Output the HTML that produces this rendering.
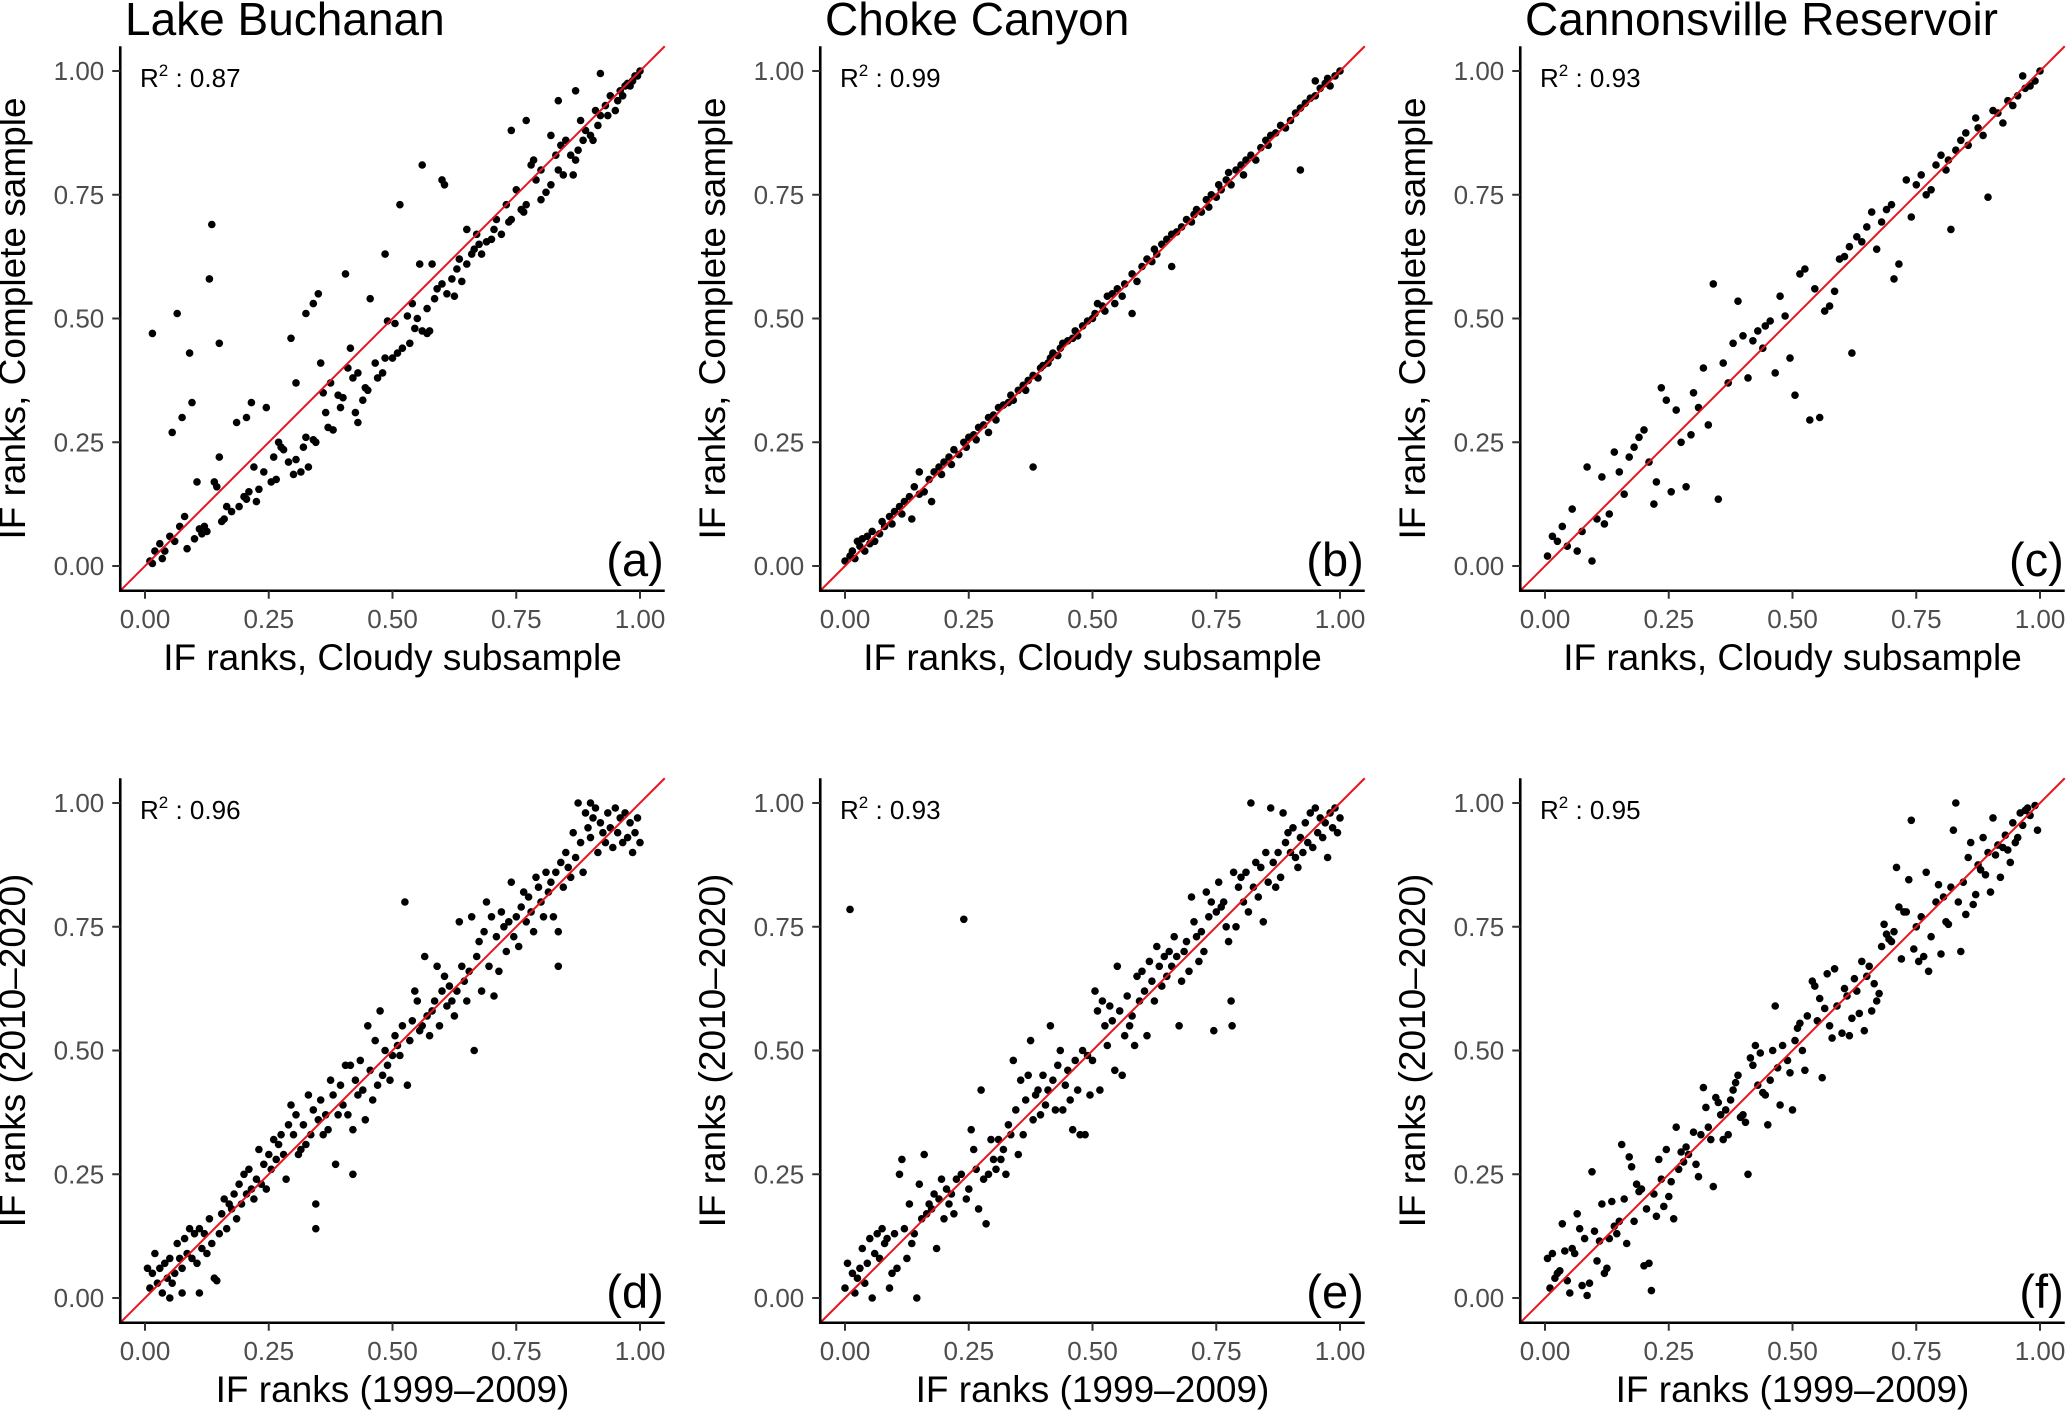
<!DOCTYPE html>
<html><head><meta charset="utf-8">
<style>
html,body{margin:0;padding:0;background:#fff;}
svg{display:block;font-family:"Liberation Sans",Arial,sans-serif;}
</style></head>
<body>
<svg id="fig" width="2067" height="1411" viewBox="0 0 2067 1411" xmlns="http://www.w3.org/2000/svg"></svg>
<script>
const tickValues = [0, 0.25, 0.5, 0.75, 1];
const tickLabels = ["0.00", "0.25", "0.50", "0.75", "1.00"];
const panelTitles = ["Lake Buchanan", "Choke Canyon", "Cannonsville Reservoir"];
const panelLetters = ["(a)", "(b)", "(c)", "(d)", "(e)", "(f)"];
const r2Values = ["0.87", "0.99", "0.93", "0.96", "0.93", "0.95"];
const xTitles = ["IF ranks, Cloudy subsample", "IF ranks (1999\u20132009)"];
const yTitles = ["IF ranks, Complete sample", "IF ranks (2010\u20132020)"];

const ptsA = [[0.015,0.47],[0.065,0.51],[0.055,0.27],[0.09,0.43],[0.095,0.33],[0.075,0.30],[0.13,0.58],[0.135,0.69],[0.15,0.45],[0.15,0.22],[0.14,0.17],[0.145,0.16],[0.105,0.17],[0.185,0.29],[0.205,0.30],[0.215,0.33],[0.245,0.32],[0.295,0.46],[0.305,0.37],[0.325,0.51],[0.34,0.53],[0.35,0.55],[0.355,0.41],[0.405,0.59],[0.415,0.44],[0.455,0.54],[0.485,0.63],[0.515,0.73],[0.555,0.61],[0.56,0.81],[0.58,0.61],[0.6,0.78],[0.605,0.77],[0.65,0.68],[0.74,0.88],[0.77,0.90],[0.835,0.94],[0.87,0.96],[0.92,0.995],
[0.01,0.01],[0.015,0.005],[0.02,0.03],[0.03,0.045],[0.035,0.015],[0.04,0.03],[0.05,0.06],[0.06,0.05],[0.07,0.08],[0.08,0.10],[0.085,0.035],[0.1,0.055],[0.11,0.075],[0.115,0.065],[0.12,0.08],[0.125,0.07],[0.155,0.09],[0.16,0.095],[0.165,0.12],[0.175,0.11],[0.19,0.12],[0.2,0.14],[0.205,0.135],[0.21,0.15],[0.22,0.2],[0.225,0.13],[0.23,0.155],[0.24,0.19],[0.255,0.17],[0.26,0.22],[0.265,0.175],[0.27,0.25],[0.275,0.24],[0.28,0.235],[0.29,0.21],[0.3,0.185],[0.305,0.215],[0.315,0.19],[0.32,0.24],[0.33,0.2],[0.325,0.26],[0.34,0.255],[0.345,0.25],[0.36,0.35],[0.365,0.31],[0.37,0.28],[0.375,0.37],[0.38,0.275],[0.39,0.345],[0.395,0.32],[0.4,0.34],[0.41,0.40],[0.42,0.38],[0.425,0.31],[0.43,0.29],[0.43,0.39],[0.44,0.335],[0.445,0.36],[0.45,0.355],[0.465,0.41],[0.47,0.38],[0.48,0.39],[0.485,0.42],[0.49,0.495],[0.5,0.42],[0.505,0.49],[0.51,0.43],[0.52,0.44],[0.53,0.505],[0.535,0.45],[0.54,0.53],[0.545,0.48],[0.55,0.5],[0.56,0.475],[0.57,0.47],[0.575,0.475],[0.57,0.52],[0.585,0.54],[0.59,0.56],[0.6,0.57],[0.61,0.55],[0.62,0.58],[0.625,0.545],[0.63,0.6],[0.635,0.62],[0.64,0.575],[0.65,0.61],[0.66,0.63],[0.665,0.64],[0.67,0.67],[0.675,0.65],[0.68,0.63],[0.69,0.655],[0.7,0.66],[0.705,0.68],[0.71,0.7],[0.72,0.67],[0.73,0.73],[0.735,0.695],[0.74,0.7],[0.75,0.76],[0.76,0.72],[0.765,0.715],[0.77,0.73],[0.78,0.81],[0.785,0.82],[0.79,0.78],[0.8,0.80],[0.8,0.74],[0.81,0.755],[0.82,0.77],[0.82,0.87],[0.83,0.83],[0.835,0.8],[0.84,0.85],[0.845,0.79],[0.85,0.86],[0.86,0.83],[0.865,0.79],[0.87,0.82],[0.875,0.84],[0.88,0.9],[0.885,0.86],[0.89,0.88],[0.9,0.87],[0.905,0.86],[0.91,0.92],[0.915,0.89],[0.92,0.91],[0.93,0.93],[0.935,0.91],[0.94,0.95],[0.95,0.92],[0.955,0.94],[0.96,0.96],[0.965,0.95],[0.97,0.97],[0.975,0.975],[0.98,0.97],[0.985,0.98],[0.99,0.99],[1.0,1.0],[0.995,0.99]];

const ptsB = [[0.0,0.01],[0.01,0.02],[0.015,0.03],[0.02,0.015],[0.025,0.05],[0.03,0.04],[0.035,0.055],[0.04,0.03],[0.045,0.06],[0.05,0.045],[0.055,0.07],[0.06,0.05],[0.07,0.065],[0.075,0.09],[0.08,0.08],[0.09,0.1],[0.095,0.085],[0.1,0.11],[0.11,0.12],[0.115,0.105],[0.12,0.13],[0.13,0.14],[0.135,0.095],[0.14,0.16],[0.15,0.145],[0.15,0.19],[0.16,0.15],[0.175,0.13],[0.17,0.175],[0.18,0.19],[0.19,0.2],[0.195,0.185],[0.2,0.21],[0.21,0.22],[0.215,0.205],[0.22,0.235],[0.23,0.225],[0.24,0.25],[0.245,0.24],[0.25,0.26],[0.26,0.265],[0.265,0.255],[0.27,0.28],[0.28,0.285],[0.29,0.27],[0.29,0.3],[0.3,0.305],[0.305,0.295],[0.31,0.32],[0.32,0.325],[0.33,0.33],[0.335,0.345],[0.34,0.335],[0.35,0.355],[0.36,0.365],[0.365,0.355],[0.37,0.375],[0.38,0.2],[0.38,0.385],[0.39,0.38],[0.395,0.4],[0.4,0.405],[0.41,0.41],[0.415,0.42],[0.42,0.43],[0.43,0.425],[0.435,0.44],[0.44,0.45],[0.45,0.455],[0.46,0.46],[0.465,0.475],[0.47,0.465],[0.48,0.485],[0.49,0.495],[0.5,0.5],[0.505,0.51],[0.51,0.53],[0.52,0.525],[0.525,0.515],[0.53,0.545],[0.54,0.55],[0.545,0.53],[0.55,0.56],[0.56,0.545],[0.565,0.57],[0.58,0.51],[0.58,0.59],[0.59,0.575],[0.6,0.605],[0.61,0.62],[0.62,0.615],[0.625,0.64],[0.63,0.63],[0.64,0.65],[0.65,0.66],[0.66,0.605],[0.66,0.67],[0.67,0.675],[0.68,0.685],[0.69,0.7],[0.7,0.695],[0.705,0.71],[0.71,0.72],[0.72,0.715],[0.73,0.74],[0.735,0.725],[0.74,0.75],[0.75,0.745],[0.755,0.77],[0.76,0.76],[0.77,0.78],[0.775,0.795],[0.78,0.77],[0.79,0.8],[0.8,0.81],[0.805,0.79],[0.81,0.82],[0.82,0.83],[0.83,0.82],[0.84,0.845],[0.85,0.86],[0.855,0.85],[0.86,0.87],[0.87,0.875],[0.88,0.89],[0.89,0.885],[0.9,0.9],[0.91,0.915],[0.92,0.8],[0.92,0.925],[0.93,0.935],[0.94,0.945],[0.95,0.95],[0.95,0.98],[0.96,0.965],[0.97,0.975],[0.975,0.985],[0.98,0.97],[0.99,0.99],[1.0,1.0]];

const ptsC = [[0.005,0.02],[0.015,0.06],[0.025,0.05],[0.035,0.08],[0.045,0.04],[0.055,0.115],[0.065,0.03],[0.075,0.07],[0.085,0.2],[0.095,0.01],[0.105,0.095],[0.115,0.18],[0.12,0.085],[0.13,0.105],[0.14,0.23],[0.15,0.19],[0.16,0.145],[0.17,0.22],[0.18,0.24],[0.19,0.26],[0.2,0.275],[0.21,0.21],[0.22,0.125],[0.225,0.17],[0.235,0.36],[0.245,0.335],[0.255,0.15],[0.265,0.315],[0.275,0.25],[0.285,0.16],[0.295,0.265],[0.3,0.35],[0.31,0.32],[0.32,0.40],[0.33,0.285],[0.34,0.57],[0.35,0.135],[0.36,0.41],[0.37,0.37],[0.38,0.45],[0.39,0.535],[0.4,0.465],[0.41,0.38],[0.42,0.455],[0.43,0.475],[0.44,0.44],[0.445,0.485],[0.455,0.495],[0.465,0.39],[0.475,0.545],[0.485,0.505],[0.495,0.42],[0.505,0.345],[0.515,0.59],[0.525,0.60],[0.535,0.295],[0.545,0.56],[0.555,0.30],[0.565,0.515],[0.575,0.525],[0.585,0.555],[0.595,0.62],[0.605,0.625],[0.615,0.645],[0.62,0.43],[0.63,0.665],[0.64,0.655],[0.65,0.685],[0.66,0.715],[0.67,0.64],[0.68,0.695],[0.69,0.72],[0.7,0.73],[0.705,0.58],[0.715,0.61],[0.73,0.78],[0.74,0.705],[0.75,0.77],[0.76,0.79],[0.77,0.75],[0.78,0.76],[0.79,0.81],[0.8,0.83],[0.81,0.8],[0.815,0.82],[0.82,0.68],[0.83,0.84],[0.84,0.86],[0.85,0.875],[0.855,0.85],[0.87,0.905],[0.875,0.885],[0.885,0.87],[0.895,0.745],[0.905,0.92],[0.915,0.915],[0.925,0.895],[0.935,0.94],[0.945,0.93],[0.955,0.95],[0.965,0.99],[0.97,0.965],[0.98,0.97],[0.99,0.98],[1.0,1.0]];

const ptsD = [[0.005,0.06],[0.01,0.02],[0.015,0.05],[0.02,0.09],[0.025,0.03],[0.03,0.06],[0.035,0.01],[0.04,0.07],[0.045,0.04],[0.05,0.0],[0.05,0.08],[0.055,0.03],[0.06,0.05],[0.065,0.11],[0.07,0.08],[0.075,0.01],[0.075,0.06],[0.08,0.12],[0.085,0.09],[0.09,0.14],[0.095,0.08],[0.1,0.13],[0.105,0.07],[0.11,0.01],[0.11,0.14],[0.115,0.1],[0.12,0.13],[0.125,0.09],[0.13,0.16],[0.135,0.11],[0.14,0.04],[0.145,0.035],[0.15,0.13],[0.155,0.17],[0.16,0.2],[0.165,0.14],[0.17,0.19],[0.175,0.18],[0.18,0.21],[0.185,0.16],[0.19,0.23],[0.195,0.19],[0.2,0.25],[0.205,0.21],[0.21,0.26],[0.215,0.22],[0.22,0.2],[0.225,0.24],[0.23,0.3],[0.235,0.23],[0.24,0.27],[0.245,0.22],[0.25,0.29],[0.255,0.26],[0.26,0.32],[0.265,0.28],[0.27,0.31],[0.275,0.33],[0.28,0.29],[0.285,0.24],[0.29,0.35],[0.295,0.39],[0.3,0.33],[0.305,0.37],[0.31,0.29],[0.315,0.3],[0.32,0.35],[0.325,0.31],[0.33,0.41],[0.335,0.33],[0.34,0.38],[0.345,0.14],[0.345,0.19],[0.35,0.36],[0.355,0.4],[0.36,0.33],[0.365,0.37],[0.37,0.34],[0.375,0.44],[0.38,0.41],[0.385,0.27],[0.39,0.37],[0.395,0.43],[0.4,0.39],[0.405,0.47],[0.41,0.37],[0.415,0.47],[0.42,0.34],[0.42,0.25],[0.425,0.44],[0.43,0.41],[0.435,0.48],[0.44,0.42],[0.445,0.36],[0.45,0.55],[0.455,0.46],[0.46,0.4],[0.465,0.52],[0.47,0.43],[0.475,0.58],[0.48,0.45],[0.485,0.5],[0.49,0.47],[0.495,0.44],[0.5,0.49],[0.505,0.53],[0.51,0.51],[0.515,0.49],[0.52,0.55],[0.525,0.8],[0.53,0.43],[0.535,0.52],[0.54,0.56],[0.545,0.62],[0.55,0.6],[0.555,0.54],[0.56,0.55],[0.565,0.69],[0.57,0.57],[0.575,0.53],[0.58,0.58],[0.585,0.6],[0.59,0.67],[0.595,0.55],[0.6,0.62],[0.605,0.65],[0.61,0.59],[0.615,0.63],[0.62,0.6],[0.625,0.57],[0.63,0.62],[0.635,0.76],[0.64,0.67],[0.645,0.64],[0.65,0.6],[0.655,0.66],[0.66,0.77],[0.665,0.5],[0.67,0.69],[0.675,0.72],[0.68,0.62],[0.685,0.74],[0.69,0.8],[0.695,0.67],[0.7,0.77],[0.705,0.61],[0.71,0.73],[0.715,0.66],[0.72,0.78],[0.725,0.75],[0.73,0.7],[0.735,0.76],[0.74,0.84],[0.745,0.73],[0.75,0.77],[0.755,0.71],[0.76,0.79],[0.765,0.82],[0.77,0.76],[0.775,0.81],[0.78,0.78],[0.785,0.74],[0.79,0.85],[0.795,0.83],[0.8,0.8],[0.805,0.77],[0.81,0.86],[0.815,0.82],[0.82,0.84],[0.825,0.77],[0.83,0.86],[0.835,0.67],[0.835,0.74],[0.84,0.88],[0.845,0.83],[0.85,0.9],[0.855,0.87],[0.86,0.85],[0.865,0.94],[0.87,0.89],[0.875,1.0],[0.88,0.92],[0.885,0.86],[0.89,0.98],[0.895,0.95],[0.9,1.0],[0.9,0.93],[0.905,0.97],[0.91,0.99],[0.915,0.9],[0.92,0.96],[0.925,0.94],[0.93,0.92],[0.935,0.98],[0.94,0.95],[0.945,0.91],[0.95,0.99],[0.955,0.94],[0.96,0.97],[0.965,0.92],[0.97,0.98],[0.975,0.93],[0.98,0.96],[0.985,0.9],[0.99,0.94],[0.995,0.97],[1.0,0.92]];

const ptsE = [[0.0,0.02],[0.005,0.07],[0.01,0.785],[0.015,0.05],[0.02,0.01],[0.025,0.04],[0.03,0.06],[0.035,0.1],[0.04,0.03],[0.045,0.07],[0.05,0.12],[0.055,0.0],[0.06,0.09],[0.065,0.13],[0.07,0.08],[0.075,0.14],[0.08,0.11],[0.085,0.12],[0.09,0.02],[0.095,0.05],[0.1,0.13],[0.105,0.06],[0.11,0.25],[0.115,0.28],[0.12,0.14],[0.125,0.08],[0.13,0.19],[0.135,0.11],[0.14,0.13],[0.145,0.0],[0.15,0.23],[0.155,0.16],[0.16,0.29],[0.165,0.17],[0.17,0.19],[0.175,0.18],[0.18,0.21],[0.185,0.1],[0.19,0.2],[0.195,0.24],[0.2,0.16],[0.205,0.22],[0.21,0.19],[0.215,0.21],[0.22,0.17],[0.225,0.24],[0.235,0.25],[0.24,0.765],[0.245,0.2],[0.25,0.22],[0.255,0.34],[0.26,0.3],[0.265,0.26],[0.27,0.18],[0.275,0.42],[0.28,0.24],[0.285,0.15],[0.29,0.25],[0.295,0.32],[0.3,0.28],[0.305,0.26],[0.31,0.32],[0.315,0.28],[0.32,0.3],[0.325,0.25],[0.33,0.35],[0.335,0.33],[0.34,0.48],[0.345,0.38],[0.35,0.29],[0.355,0.44],[0.36,0.33],[0.365,0.4],[0.37,0.45],[0.375,0.52],[0.38,0.36],[0.385,0.41],[0.39,0.42],[0.395,0.37],[0.4,0.45],[0.405,0.39],[0.41,0.42],[0.415,0.55],[0.42,0.44],[0.425,0.38],[0.43,0.47],[0.435,0.5],[0.44,0.38],[0.445,0.43],[0.45,0.46],[0.455,0.4],[0.46,0.34],[0.465,0.48],[0.47,0.42],[0.475,0.33],[0.48,0.5],[0.485,0.33],[0.49,0.49],[0.495,0.41],[0.5,0.48],[0.505,0.62],[0.51,0.58],[0.515,0.42],[0.52,0.6],[0.525,0.55],[0.53,0.51],[0.535,0.59],[0.54,0.56],[0.545,0.46],[0.55,0.67],[0.555,0.58],[0.56,0.45],[0.565,0.53],[0.57,0.61],[0.575,0.55],[0.58,0.57],[0.585,0.51],[0.59,0.65],[0.595,0.6],[0.6,0.66],[0.605,0.62],[0.61,0.53],[0.615,0.68],[0.62,0.64],[0.625,0.6],[0.63,0.71],[0.635,0.67],[0.64,0.63],[0.645,0.69],[0.65,0.65],[0.655,0.7],[0.66,0.67],[0.665,0.73],[0.67,0.69],[0.675,0.55],[0.68,0.64],[0.685,0.7],[0.69,0.72],[0.695,0.66],[0.7,0.81],[0.705,0.76],[0.71,0.73],[0.715,0.68],[0.72,0.74],[0.725,0.7],[0.73,0.82],[0.735,0.77],[0.74,0.8],[0.745,0.54],[0.75,0.78],[0.755,0.84],[0.76,0.79],[0.765,0.8],[0.77,0.75],[0.775,0.72],[0.78,0.6],[0.782,0.55],[0.785,0.86],[0.79,0.75],[0.795,0.83],[0.8,0.85],[0.805,0.8],[0.81,0.86],[0.815,0.78],[0.82,1.0],[0.825,0.83],[0.83,0.88],[0.835,0.81],[0.84,0.87],[0.845,0.76],[0.85,0.9],[0.855,0.84],[0.86,0.99],[0.865,0.88],[0.87,0.83],[0.875,0.9],[0.88,0.85],[0.885,0.98],[0.89,0.92],[0.895,0.94],[0.9,0.9],[0.905,0.95],[0.91,0.89],[0.915,0.87],[0.92,0.93],[0.925,0.9],[0.93,0.96],[0.935,0.92],[0.94,0.98],[0.945,0.91],[0.95,0.99],[0.955,0.94],[0.96,0.97],[0.965,0.93],[0.97,0.96],[0.975,0.89],[0.98,0.98],[0.985,0.95],[0.99,0.99],[0.995,0.94],[1.0,0.97]];

const ptsF = [[0.005,0.08],[0.01,0.02],[0.015,0.09],[0.02,0.04],[0.025,0.05],[0.03,0.055],[0.035,0.15],[0.04,0.095],[0.045,0.035],[0.05,0.01],[0.055,0.1],[0.06,0.09],[0.065,0.17],[0.07,0.14],[0.075,0.025],[0.08,0.12],[0.085,0.005],[0.09,0.03],[0.095,0.255],[0.1,0.135],[0.105,0.075],[0.11,0.115],[0.115,0.19],[0.12,0.05],[0.125,0.06],[0.13,0.12],[0.135,0.195],[0.14,0.145],[0.145,0.13],[0.15,0.155],[0.155,0.31],[0.16,0.2],[0.165,0.11],[0.17,0.285],[0.175,0.265],[0.18,0.155],[0.185,0.23],[0.19,0.215],[0.195,0.22],[0.2,0.065],[0.205,0.18],[0.21,0.07],[0.215,0.015],[0.22,0.21],[0.225,0.165],[0.23,0.28],[0.235,0.24],[0.24,0.185],[0.245,0.3],[0.25,0.205],[0.255,0.235],[0.26,0.16],[0.265,0.345],[0.27,0.26],[0.275,0.295],[0.28,0.275],[0.285,0.305],[0.29,0.29],[0.3,0.335],[0.305,0.27],[0.31,0.245],[0.315,0.33],[0.32,0.425],[0.325,0.385],[0.33,0.345],[0.335,0.32],[0.34,0.225],[0.345,0.405],[0.35,0.395],[0.355,0.37],[0.36,0.32],[0.365,0.38],[0.37,0.33],[0.375,0.4],[0.38,0.42],[0.385,0.435],[0.39,0.45],[0.395,0.365],[0.4,0.37],[0.405,0.355],[0.41,0.25],[0.415,0.485],[0.42,0.47],[0.425,0.51],[0.43,0.43],[0.435,0.495],[0.44,0.415],[0.445,0.41],[0.45,0.35],[0.455,0.44],[0.46,0.5],[0.465,0.59],[0.47,0.465],[0.475,0.39],[0.48,0.51],[0.49,0.48],[0.495,0.455],[0.5,0.38],[0.505,0.52],[0.51,0.545],[0.515,0.555],[0.52,0.5],[0.525,0.46],[0.53,0.57],[0.54,0.64],[0.545,0.63],[0.55,0.56],[0.555,0.605],[0.56,0.445],[0.565,0.585],[0.57,0.655],[0.575,0.55],[0.58,0.525],[0.585,0.665],[0.59,0.59],[0.6,0.535],[0.605,0.625],[0.61,0.61],[0.615,0.53],[0.62,0.565],[0.625,0.645],[0.63,0.62],[0.635,0.575],[0.64,0.68],[0.645,0.54],[0.65,0.65],[0.655,0.67],[0.66,0.58],[0.665,0.635],[0.67,0.6],[0.675,0.615],[0.68,0.71],[0.685,0.755],[0.69,0.735],[0.695,0.725],[0.7,0.72],[0.705,0.74],[0.71,0.87],[0.715,0.79],[0.72,0.685],[0.725,0.78],[0.73,0.78],[0.735,0.845],[0.74,0.965],[0.745,0.705],[0.75,0.75],[0.755,0.68],[0.76,0.77],[0.765,0.69],[0.77,0.86],[0.775,0.66],[0.78,0.73],[0.79,0.8],[0.795,0.835],[0.8,0.695],[0.805,0.81],[0.81,0.76],[0.815,0.755],[0.82,0.83],[0.825,0.945],[0.83,1.0],[0.835,0.8],[0.84,0.7],[0.845,0.84],[0.85,0.775],[0.855,0.89],[0.86,0.92],[0.865,0.795],[0.87,0.815],[0.875,0.875],[0.88,0.865],[0.885,0.93],[0.89,0.855],[0.895,0.9],[0.9,0.82],[0.905,0.97],[0.91,0.895],[0.915,0.915],[0.92,0.85],[0.925,0.91],[0.93,0.935],[0.935,0.905],[0.94,0.88],[0.945,0.96],[0.95,0.92],[0.955,0.93],[0.96,0.98],[0.965,0.955],[0.97,0.985],[0.975,0.99],[0.98,0.975],[0.99,0.995],[0.995,0.945]];

const allPts = [ptsA, ptsB, ptsC, ptsD, ptsE, ptsF];

const NS = "http://www.w3.org/2000/svg";
const svg = document.getElementById("fig");
function mk(tag, attrs, parent, text) {
  const e = document.createElementNS(NS, tag);
  for (const k in attrs) e.setAttribute(k, attrs[k]);
  if (text !== undefined) e.textContent = text;
  parent.appendChild(e);
  return e;
}
const colX0 = [145, 845, 1545];
const rowY0 = [566, 1298];
const span = 495;

for (let p = 0; p < 6; p++) {
  const col = p % 3, row = Math.floor(p / 3);
  const X0 = colX0[col], Y0 = rowY0[row];
  const sx = v => X0 + v * span;
  const sy = v => Y0 - v * span;
  const g = mk("g", {}, svg);
  
  

  if (row === 0) {
    const t = mk("text", {x: X0 - 20, y: 35, "font-size": 46, fill: "#000"}, g, panelTitles[col]);
    
    
  }
  const pg = mk("g", {}, g);
  
  
  allPts[p].forEach(pt => {
    const c = mk("circle", {cx: sx(pt[0]).toFixed(1), cy: sy(pt[1]).toFixed(1), r: 3.8, fill: "#000"}, pg);
    
    
  });
  const ln = mk("line", {x1: sx(-0.05), y1: sy(-0.05), x2: sx(1.05), y2: sy(1.05), stroke: "#e8141b", "stroke-width": 2}, g);
  
  
  const ya = mk("line", {x1: sx(-0.05), y1: sy(-0.05), x2: sx(-0.05), y2: sy(1.05), stroke: "#000", "stroke-width": 2.6}, g);
  
  
  const xa = mk("line", {x1: sx(-0.05) - 1.3, y1: sy(-0.05), x2: sx(1.05), y2: sy(-0.05), stroke: "#000", "stroke-width": 2.6}, g);
  
  
  tickValues.forEach((v, i) => {
    const ax = sx(-0.05), ay = sy(-0.05);
    const yt = mk("line", {x1: ax - 8, y1: sy(v), x2: ax, y2: sy(v), stroke: "#333", "stroke-width": 2}, g);
    
    
    const yl = mk("text", {x: ax - 16, y: sy(v) + 9, "font-size": 26, fill: "#4d4d4d", "text-anchor": "end"}, g, tickLabels[i]);
    
    
    const xt = mk("line", {x1: sx(v), y1: ay, x2: sx(v), y2: ay + 8, stroke: "#333", "stroke-width": 2}, g);
    
    
    const xl = mk("text", {x: sx(v), y: ay + 37, "font-size": 26, fill: "#4d4d4d", "text-anchor": "middle"}, g, tickLabels[i]);
    
    
  });
  const cx = sx(0.5);
  const xt = mk("text", {x: cx, y: Y0 + 104, "font-size": 37, fill: "#000", "text-anchor": "middle"}, g, xTitles[row]);
  
  
  const cyy = sy(0.5);
  const ytt = mk("text", {x: 0, y: 0, "font-size": 37, fill: "#000", "text-anchor": "middle", transform: `translate(${X0 - 120},${cyy}) rotate(-90)`}, g, yTitles[row]);
  
  
  const r = mk("text", {x: X0 - 5, y: sy(1) + 16, "font-size": 26, fill: "#000"}, g);
  
  
  mk("tspan", {}, r, "R");
  mk("tspan", {dy: -11, "font-size": 17}, r, "2");
  mk("tspan", {dy: 11}, r, " : " + r2Values[p]);
  const lt = mk("text", {x: sx(1.05) - 1, y: Y0 + 10, "font-size": 47, fill: "#000", "text-anchor": "end"}, g, panelLetters[p]);
  
  
}
</script>
</body></html>
